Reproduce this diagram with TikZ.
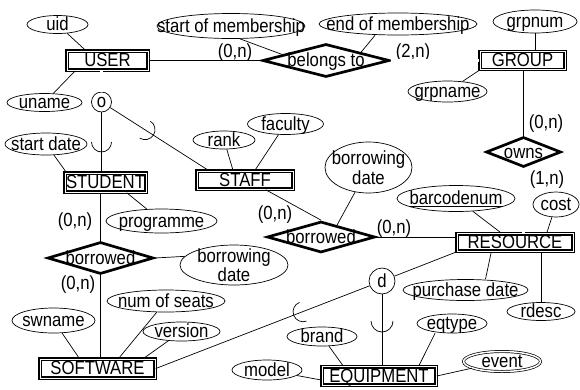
\documentclass[tikz,border=0pt]{standalone}
\usepackage{fontspec}
\setmainfont{Liberation Sans}[FakeStretch=0.88]
\usetikzlibrary{shapes.geometric, calc}

\tikzset{
  lbl/.style={text height=12pt, text depth=0pt},
  entity/.style={draw, double, double distance=0.6pt, line width=1.5pt, inner sep=0pt, fill=white, lbl},
  rel/.style={diamond, draw, line width=2.7pt, inner sep=0pt, fill=white, label={[lbl]center:#1}},
  attr/.style={ellipse, draw, line width=0.7pt, inner sep=0pt, fill=white, label={[lbl]center:#1}},
  attrtwo/.style={ellipse, draw, line width=0.7pt, inner sep=0pt, fill=white, label={center:#1}},
  isa/.style={circle, draw, line width=0.7pt, inner sep=0pt, minimum size=#1},
  link/.style={line width=0.7pt},
  dlink/.style={link, double, double distance=2.4pt},
  every label/.style={inner sep=0pt, align=center},
}

\begin{document}
\begin{tikzpicture}[x=1pt, y=-1pt, font=\fontsize{19}{19.5}\selectfont]
  \useasboundingbox (0,0) rectangle (580,389);

  % entity sets
  \node[entity, minimum width=81pt, minimum height=19pt] (USER) at (107.5,60.5) {USER};
  \node[entity, minimum width=85pt, minimum height=18pt] (GROUP) at (522.5,60.5) {GROUP};
  \node[entity, minimum width=81pt, minimum height=19pt] (STUDENT) at (105.5,182.5) {STUDENT};
  \node[entity, minimum width=96pt, minimum height=18pt] (STAFF) at (245,180) {STAFF};
  \node[entity, minimum width=116pt, minimum height=17.5pt] (RESOURCE) at (515,242.5) {RESOURCE};
  \node[entity, minimum width=115pt, minimum height=19pt] (SOFTWARE) at (97.5,368.5) {SOFTWARE};
  \node[entity, minimum width=114pt, minimum height=18.5pt] (EQUIPMENT) at (379,376) {EQUIPMENT};

  % relationships
  \node[rel=belongs to, minimum width=127pt, minimum height=33pt] (belongs) at (326,60.5) {};
  \node[rel=owns, minimum width=75pt, minimum height=30pt] (owns) at (523.5,152) {};
  \node[rel=borrowed, minimum width=108pt, minimum height=31pt] (borStaff) at (321,237) {};
  \node[rel=borrowed, minimum width=106pt, minimum height=32pt] (borStud) at (100.5,258) {};

  % attributes
  \node[attr=uid, minimum width=61pt, minimum height=18pt] (uid) at (57.5,24.5) {};
  \node[attr=uname, minimum width=75pt, minimum height=18pt] (uname) at (44.5,102.5) {};
  \node[attr=start of membership, minimum width=148pt, minimum height=25pt] (startm) at (231,26) {};
  \node[attr=end of membership, minimum width=158pt, minimum height=22pt] (endm) at (398,24) {};
  \node[attr=grpnum, minimum width=84pt, minimum height=23pt] (grpnum) at (535,21.5) {};
  \node[attr=grpname, minimum width=79pt, minimum height=21pt] (grpname) at (447.5,91.5) {};
  \node[attr=start date, minimum width=82pt, minimum height=22pt] (startd) at (46,144) {};
  \node[attr=rank, minimum width=62pt, minimum height=18pt] (rank) at (224,140) {};
  \node[attr=faculty, minimum width=76pt, minimum height=21pt] (faculty) at (285.5,124) {};
  \node[attr=programme, minimum width=111pt, minimum height=24pt] (programme) at (161.5,221) {};
  \node[attrtwo={borrowing\\date}, minimum width=87pt, minimum height=51pt] (bdateStaff) at (368.5,167.5) {};
  \node[attr={\underline{barcodenum}}, minimum width=118pt, minimum height=26pt] (barcode) at (456,198.5) {};
  \node[attr=cost, minimum width=46pt, minimum height=25pt] (cost) at (556,204.5) {};
  \node[attrtwo={borrowing\\date}, minimum width=108pt, minimum height=40pt] (bdateStud) at (234,265) {};
  \node[attr=num of seats, minimum width=118pt, minimum height=22pt] (numseats) at (166,301) {};
  \node[attr=swname, minimum width=83pt, minimum height=25pt] (swname) at (53.5,320.5) {};
  \node[attr=version, minimum width=77pt, minimum height=19pt] (version) at (181.5,331.5) {};
  \node[attr=purchase date, minimum width=125pt, minimum height=21pt] (purchase) at (465.5,290) {};
  \node[attr=rdesc, minimum width=68pt, minimum height=18pt] (rdesc) at (541,311.5) {};
  \node[attr=brand, minimum width=70pt, minimum height=19pt] (brand) at (322,336.5) {};
  \node[attr=eqtype, minimum width=70pt, minimum height=19pt] (eqtype) at (452,323.5) {};
  \node[attr=model, minimum width=70pt, minimum height=20pt] (model) at (267,370) {};
  \node[attr=event, double, double distance=1.5pt, minimum width=77pt, minimum height=20pt] (event) at (502,361.5) {};

  % specialisation circles
  \node[isa=20pt] (o) at (101.5,102) {o};
  \node[isa=26pt] (d) at (382,281) {d};

  % cardinalities
  \node (cUser) at (235,53) {(0,n)};
  \node (cGroup) at (413,53) {(2,n)};
  \node (cOwnsG) at (546,124) {(0,n)};
  \node (cOwnsR) at (547,180) {(1,n)};
  \node (cBorRes) at (394,229) {(0,n)};
  \node (cBorStaff) at (275,215) {(0,n)};
  \node (cBorStud) at (75,222) {(0,n)};
  \node (cBorSw) at (78,285) {(0,n)};

  % relationship lines
  \draw[link] (USER.east) -- (belongs.west);
  \draw[dlink] (belongs.east) -- (GROUP.west);
  \draw[link] (owns.north) -- (owns.north |- GROUP.south);
  \draw[dlink] (owns.south) -- (owns.south |- RESOURCE.north);
  \draw[link] (borStaff.east) -- (borStaff.east -| RESOURCE.west);
  \draw[link] ([xshift=-28pt]STAFF.south east) -- (borStaff.north);
  \draw[link] (borStud.north) -- (borStud.north |- STUDENT.south);
  \draw[link] (borStud.south) -- (borStud.south |- SOFTWARE.north);

  % attribute lines
  \draw[link] (uid) -- ([xshift=-22pt]USER.north);
  \draw[link] (uname) -- ([xshift=9pt]USER.south west);
  \draw[link] ([xshift=9pt]startm.south) -- ($(belongs.west)!0.33!(belongs.north)$);
  \draw[link] ([xshift=-23pt]endm.south) -- ($(belongs.north)!0.54!(belongs.east)$);
  \draw[link] (grpnum.south) -- (grpnum.south |- GROUP.north);
  \draw[link] (grpname) -- (GROUP.south west);
  \draw[link] (barcode) -- ([xshift=45pt]RESOURCE.north west);
  \draw[link] (cost) -- ([xshift=-27pt]RESOURCE.north east);
  \draw[link] (bdateStaff) -- ($(borStaff.north)!0.29!(borStaff.east)$);
  \draw[link] (rank) -- ([xshift=-12pt]STAFF.north);
  \draw[link] (faculty) -- ([xshift=10pt]STAFF.north);
  \draw[link] (startd) -- ([xshift=2pt]STUDENT.north west);
  \draw[link] (programme) -- ([xshift=-20pt]STUDENT.south east);
  \draw[link] (borStud.east) -- (bdateStud.170);
  \draw[link] (swname) -- ([xshift=40pt]SOFTWARE.north west);
  \draw[link] (numseats) -- ([xshift=-37pt]SOFTWARE.north east);
  \draw[link] (version) -- ([xshift=-12pt]SOFTWARE.north east);
  \draw[link] ([xshift=20pt]purchase.north) -- ([xshift=35pt]RESOURCE.south west);
  \draw[link] (rdesc.north) -- (rdesc.north |- RESOURCE.south);
  \draw[link] (brand) -- ([xshift=22pt]EQUIPMENT.north west);
  \draw[link] ([xshift=-17pt]eqtype.south) -- ([xshift=-18pt]EQUIPMENT.north east);
  \draw[link] (event) -- (EQUIPMENT.east);
  \draw[link] (model) -- ([yshift=-4pt]EQUIPMENT.west);

  % specialisations
  \draw[dlink] (o.north) -- (o.north |- USER.south);
  \draw[link] (o.south) -- (o.south |- STUDENT.north);
  \draw[link] (o) -- ([xshift=12pt]STAFF.north west);
  \draw[link] (SOFTWARE.east) -- (d);
  \draw[link] (d.south) -- (d.south |- EQUIPMENT.north);
  \draw[link] (d) -- (RESOURCE.south west);

  % subset marks
  \draw[link] (91.5,142) arc[start angle=180, end angle=360, radius=10pt];
  \draw[link] (150.4,121.2) arc[start angle=57.6, end angle=-122.4, radius=10pt];
  \draw[link] (299.5,302.4) arc[start angle=110.8, end angle=290.8, radius=10pt];
  \draw[link] (371,321) arc[start angle=180, end angle=360, radius=11pt];
\end{tikzpicture}
\end{document}
